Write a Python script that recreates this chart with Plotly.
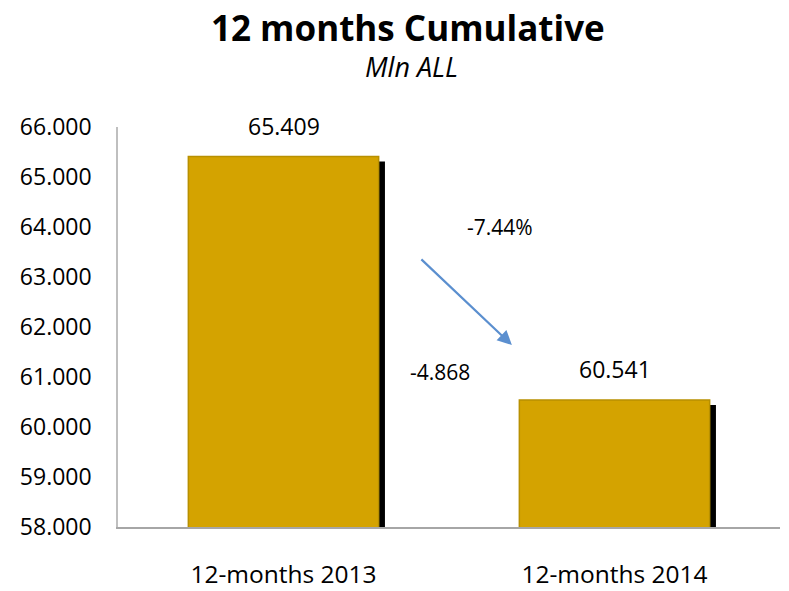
import plotly.graph_objects as go

categories = ["12-months 2013", "12-months 2014"]
values = [65409, 60541]
y_ticks = [58000, 59000, 60000, 61000, 62000, 63000, 64000, 65000, 66000]
change_abs = values[1] - values[0]
change_pct = change_abs / values[0] * 100

FONT = "Open Sans"
GOLD = "#D4A300"
BAR_W = 0.575


def dotfmt(v):
    return f"{v:,}".replace(",", ".")


fig = go.Figure()
# shadow
fig.add_trace(go.Bar(
    x=categories, y=[v - 100 for v in values], width=BAR_W, offset=-BAR_W / 2 + 0.019,
    marker=dict(color="#000000", line=dict(width=0)), hoverinfo="skip", showlegend=False,
))
# main bars
fig.add_trace(go.Bar(
    x=categories, y=values, width=BAR_W, offset=-BAR_W / 2,
    marker=dict(color=GOLD, line=dict(color="#B89000", width=1.5)), showlegend=False,
))

fig.update_layout(
    barmode="overlay",
    width=789, height=591,
    margin=dict(l=110, r=17, t=119, b=72, autoexpand=False),
    paper_bgcolor="white", plot_bgcolor="white",
    font=dict(family=FONT, size=22, color="#000000"),
    xaxis=dict(
        showline=True, linecolor="#A6A6A6", linewidth=1.5, ticks="",
        showgrid=False, tickfont=dict(size=24.5), ticklabelstandoff=25,
        automargin=False,
    ),
    yaxis=dict(
        range=[58000, 66000], tickvals=y_ticks,
        ticktext=[dotfmt(v) for v in y_ticks],
        tickfont=dict(size=23), automargin=False,
        showline=True, linecolor="#BFBFBF", linewidth=1.5, ticks="",
        showgrid=False, zeroline=False, ticklabelstandoff=20,
    ),
)

# title and subtitle
fig.add_annotation(xref="paper", yref="paper", x=0.438, y=1.2475, yanchor="middle",
                   text="<b>12 months Cumulative</b>", showarrow=False,
                   font=dict(size=35, color="#000000"))
fig.add_annotation(xref="paper", yref="paper", x=0.444, y=1.152, yanchor="middle",
                   text="<i>Mln ALL</i>", showarrow=False,
                   font=dict(size=27, color="#000000"))

for c, v in zip(categories, values):
    fig.add_annotation(x=c, y=v, yref="y", text=dotfmt(v),
                       showarrow=False, yanchor="bottom", yshift=13,
                       font=dict(size=23))

fig.add_annotation(xref="paper", yref="paper", x=0.577, y=0.79,
                   text=f"{change_pct:.2f}%", showarrow=False, font=dict(size=21))
fig.add_annotation(xref="paper", yref="paper", x=0.486, y=0.3875,
                   text=dotfmt(change_abs), showarrow=False, font=dict(size=21))
fig.add_annotation(xref="x domain", yref="y domain", x=0.595, y=0.455,
                   axref="x domain", ayref="y domain", ax=0.456, ay=0.6725,
                   text="", showarrow=True, arrowhead=2, arrowsize=1.3,
                   arrowwidth=2.2, arrowcolor="#5B8FCF")

fig.write_html("out.html")
